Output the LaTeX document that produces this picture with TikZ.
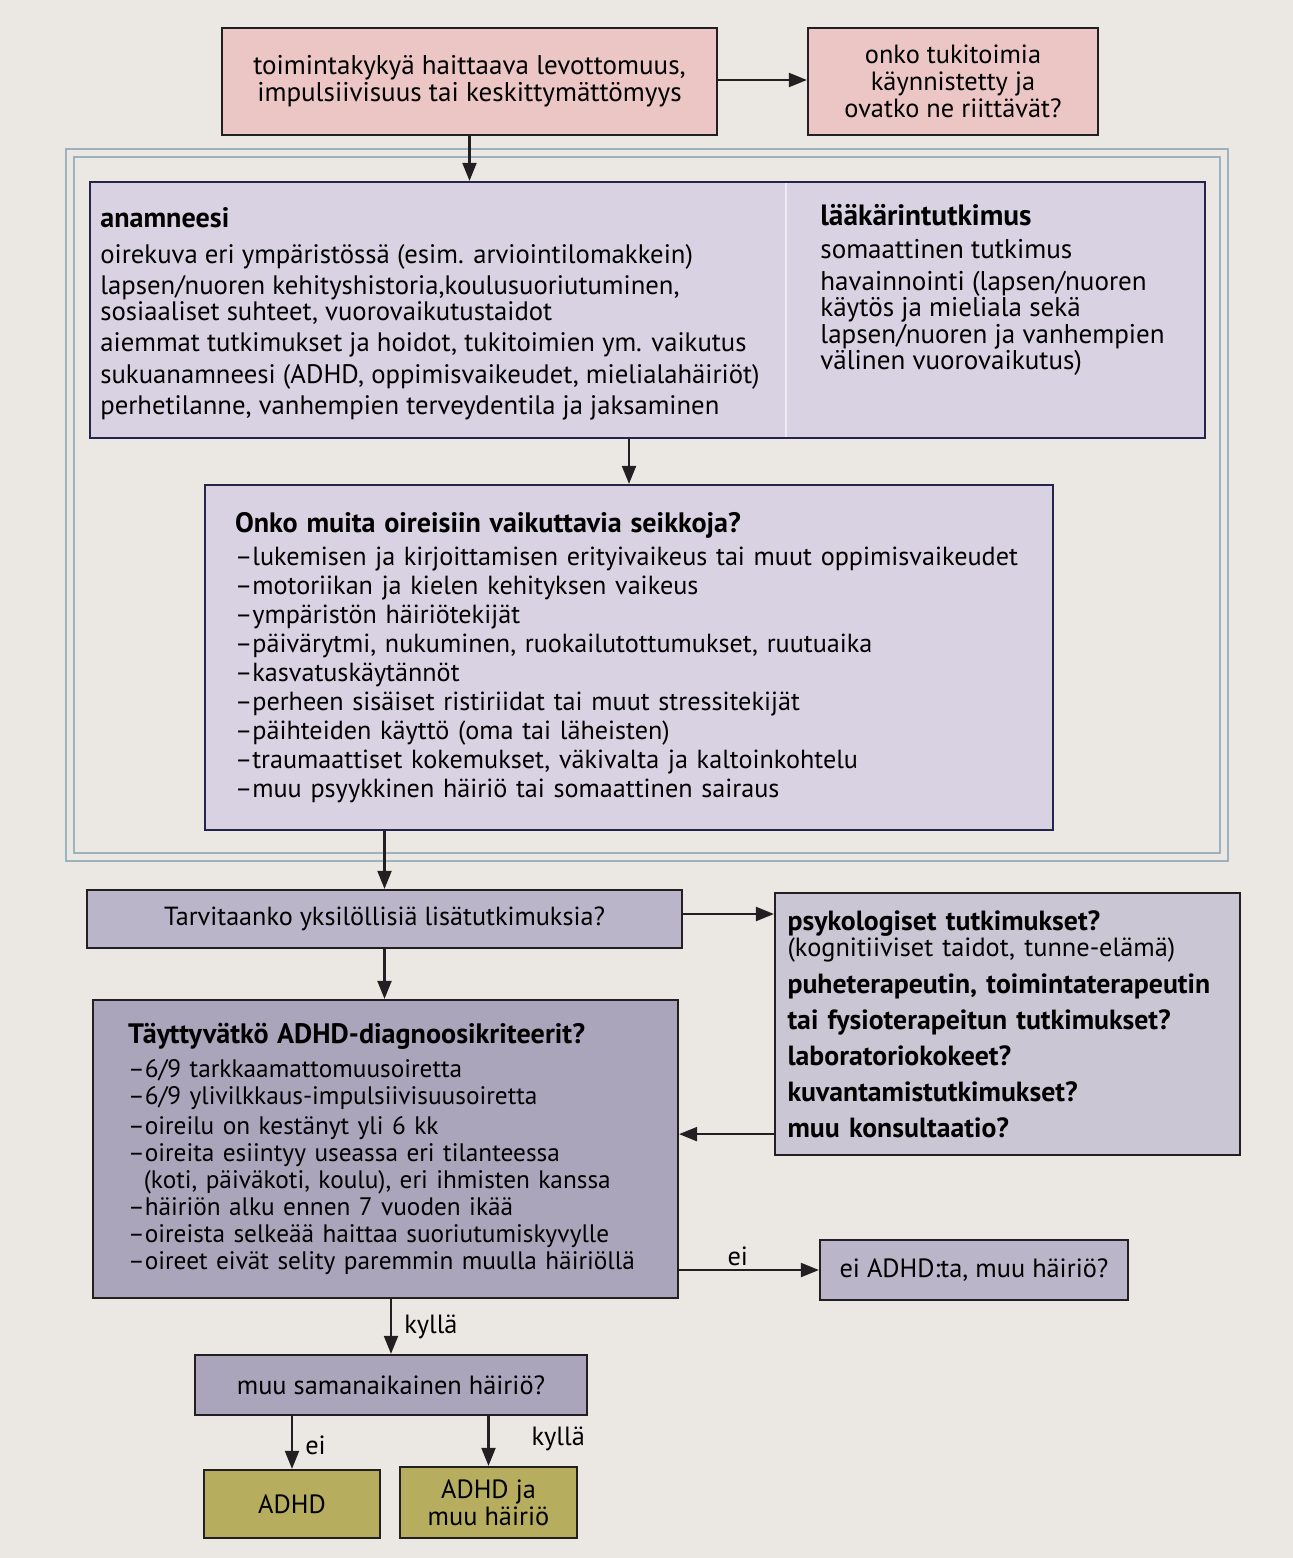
\documentclass[tikz,border=0pt]{standalone}
\usepackage{fontspec}
\setmainfont{PT Sans}
\usetikzlibrary{arrows.meta,positioning,calc}
\definecolor{paper}{HTML}{EBE8E4}
\definecolor{pinkfill}{HTML}{EBC6C4}
\definecolor{lavfill}{HTML}{D8D2E2}
\definecolor{greyfill}{HTML}{BAB5C8}
\definecolor{lightfill}{HTML}{CAC6D4}
\definecolor{darkfill}{HTML}{AAA5BB}
\definecolor{olivefill}{HTML}{B7AD5E}
\definecolor{navyline}{HTML}{25244A}
\definecolor{darkline}{HTML}{221F22}
\definecolor{framecol}{HTML}{9DB1BF}
\newcommand{\hd}[2]{{\fontsize{#1}{#1}\selectfont\bfseries #2}}

\begin{document}
\begin{tikzpicture}[x=0.02cm,y=-0.02cm,>={Triangle[length=3.6mm,width=2.8mm]}]
    \tikzstyle{b}=[rectangle,draw=darkline,line width=1.3pt,inner sep=0pt,align=center,font=\fontsize{15}{15.4}\selectfont]
    \tikzstyle{lav}=[b,draw=navyline,fill=lavfill]
    \tikzstyle{txt}=[inner sep=0pt,align=left,anchor=north west]
    \tikzstyle{arr}=[->,draw=darkline,line width=1.2pt]
    \tikzstyle{lab}=[inner sep=2pt,font=\fontsize{15}{15}\selectfont]
    \fill[paper] (0,0) rectangle (1293,1558);
    % top row
    \node[b,fill=pinkfill,minimum width=9.9cm,minimum height=2.14cm,font=\fontsize{15.4}{15.4}\selectfont] (cause) at (469.5,81.5)
        {toimintakykyä haittaava levottomuus,\\impulsiivisuus tai keskittymättömyys};
    \node[b,fill=pinkfill,minimum width=5.8cm,minimum height=2.14cm] (support) at (953,81.5)
        {onko tukitoimia\\käynnistetty ja\\ovatko ne riittävät?};
    % group frame
    \node[draw=framecol,line width=0.9pt,double=paper,double distance=0.13cm,minimum width=23.08cm,minimum height=14.09cm] (grp) at (647,505) {};
    \node[lav,minimum width=22.3cm,minimum height=5.12cm] (hist) at (647.5,310) {};
    \draw[white!55!lavfill,line width=1pt] ($(hist.north west)+(697,2)$) -- ($(hist.south west)+(697,-2)$);
    \node[txt,font=\fontsize{15.2}{14.8}\selectfont] (anam) at (100,207) {\hd{16}{anamneesi}\\[5.6pt]
        oirekuva eri ympäristössä (esim. arviointilomakkein)\\[3pt]
        lapsen/nuoren kehityshistoria,koulusuoriutuminen,\\
        sosiaaliset suhteet, vuorovaikutustaidot\\[3pt]
        aiemmat tutkimukset ja hoidot, tukitoimien ym. vaikutus\\[3pt]
        sukuanamneesi (ADHD, oppimisvaikeudet, mielialahäiriöt)\\[3pt]
        perhetilanne, vanhempien terveydentila ja jaksaminen};
    \node[txt,font=\fontsize{15.4}{15}\selectfont] (exam) at (820,204) {\hd{16.7}{lääkärintutkimus}\\[4pt]
        somaattinen tutkimus\\[3pt]
        havainnointi (lapsen/nuoren\\
        käytös ja mieliala sekä\\
        lapsen/nuoren ja vanhempien\\
        välinen vuorovaikutus)};
    \node[lav,align=left,inner xsep=0.6cm,text width=15.76cm,minimum height=6.9cm,font=\fontsize{14.9}{16.5}\selectfont] (other) at (629,657.5)
        {\hd{16}{Onko muita oireisiin vaikuttavia seikkoja?}\\[2pt]
        –lukemisen ja kirjoittamisen erityivaikeus tai muut oppimisvaikeudet\\
        –motoriikan ja kielen kehityksen vaikeus\\
        –ympäristön häiriötekijät\\
        –päivärytmi, nukuminen, ruokailutottumukset, ruutuaika\\
        –kasvatuskäytännöt\\
        –perheen sisäiset ristiriidat tai muut stressitekijät\\
        –päihteiden käyttö (oma tai läheisten)\\
        –traumaattiset kokemukset, väkivalta ja kaltoinkohtelu\\
        –muu psyykkinen häiriö tai somaattinen sairaus};
    % lower part
    \node[b,fill=greyfill,minimum width=11.9cm,minimum height=1.16cm,font=\fontsize{14.9}{15}\selectfont] (need) at (384.5,919)
        {Tarvitaanko yksilöllisiä lisätutkimuksia?};
    \node[b,fill=lightfill,align=left,inner xsep=0.25cm,text width=8.8cm,minimum height=5.24cm,font=\fontsize{15.8}{20.4}\selectfont\bfseries] (tests) at (1007.5,1024)
        {psykologiset tutkimukset?\\[-5.7pt]
        {\fontsize{15}{15}\selectfont\mdseries (kognitiiviset taidot, tunne-elämä)}\\[1pt]
        \mbox{puheterapeutin, toimintaterapeutin}\\
        tai fysioterapeitun tutkimukset?\\
        laboratoriokokeet?\\
        kuvantamistutkimukset?\\
        muu konsultaatio?};
    \node[b,fill=darkfill,align=left,inner xsep=0.7cm,text width=10.3cm,minimum height=5.96cm,font=\fontsize{14.4}{15.3}\selectfont] (crit) at (385.5,1149)
        {\hd{16}{Täyttyvätkö ADHD-diagnoosikriteerit?}\\[4pt]
        –6/9 tarkkaamattomuusoiretta\\
        –6/9 ylivilkkaus-impulsiivisuusoiretta\\[2pt]
        –oireilu on kestänyt yli 6 kk\\
        –oireita esiintyy useassa eri tilanteessa\\
        \hspace*{9pt}(koti, päiväkoti, koulu), eri ihmisten kanssa\\
        –häiriön alku ennen 7 vuoden ikää\\
        –oireista selkeää haittaa suoriutumiskyvylle\\
        –oireet eivät selity paremmin muulla häiriöllä};
    \node[b,fill=greyfill,minimum width=6.16cm,minimum height=1.2cm] (noadhd) at (974,1270) {ei ADHD:ta, muu häiriö?};
    \node[b,fill=darkfill,minimum width=7.84cm,minimum height=1.2cm] (comorb) at (391,1385) {muu samanaikainen häiriö?};
    \node[b,fill=olivefill,minimum width=3.52cm,minimum height=1.36cm] (adhd) at (292,1504) {ADHD};
    \node[b,fill=olivefill,minimum width=3.54cm,minimum height=1.42cm] (both) at (488.5,1502.5) {ADHD ja\\muu häiriö};
    % connectors
    \draw[arr] (cause.east |- 0,80) -- (support.west |- 0,80);
    \draw[arr] (cause.south) -- (cause.south |- hist.north);
    \draw[arr] (hist.south -| other.north) -- (other.north);
    \draw[arr] (need.north |- other.south) -- (need.north);
    \draw[arr] (need.east |- 0,914) -- (tests.west |- 0,914);
    \draw[arr] (need.south) -- (need.south |- crit.north);
    \draw[arr] ($(tests.south west)+(0,-22)$) -- ($(tests.south west -| crit.east)+(0,-22)$);
    \draw[arr] (noadhd.west -| crit.east) -- node[lab,above,pos=0.42]{ei} (noadhd.west);
    \draw[arr] (crit.south -| comorb.north) -- node[lab,right,xshift=5pt]{kyllä} (comorb.north);
    \draw[arr] (comorb.south -| adhd.north) -- node[lab,right,pos=0.55,xshift=5pt]{ei} (adhd.north);
    \draw[arr] (comorb.south -| both.north) -- node[lab,right,pos=0.45,xshift=22pt]{kyllä} (both.north);
\end{tikzpicture}
\end{document}
